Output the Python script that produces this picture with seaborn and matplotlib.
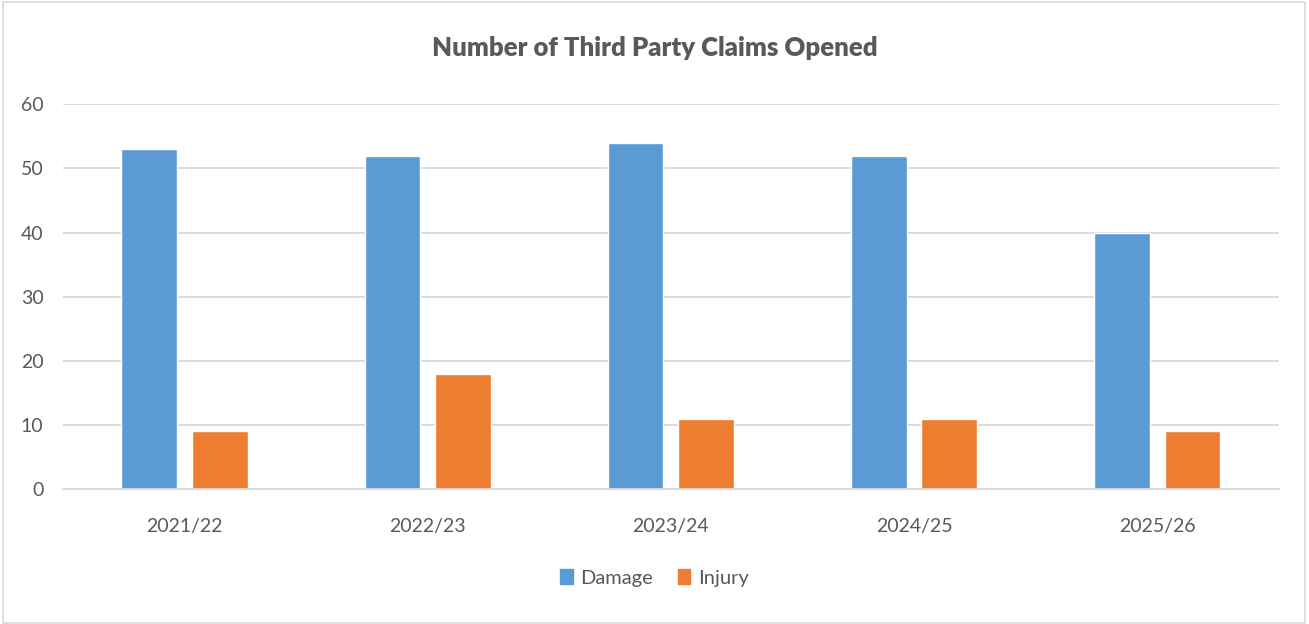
import pandas as pd
import matplotlib.pyplot as plt
import matplotlib.patches as mpatches
import seaborn as sns

# Datos
years = ["2021/22", "2022/23", "2023/24", "2024/25", "2025/26"]
damage = [53, 52, 54, 52, 40]
injury = [9, 18, 11, 11, 9]

data = pd.DataFrame({
    "Year": years * 2,
    "Claims": damage + injury,
    "Type": ["Damage"] * len(years) + ["Injury"] * len(years),
})

sns.set_style("white")
plt.rcParams["font.family"] = ["Lato", "DejaVu Sans"]

text_color = "#595959"
grid_color = "#D9D9D9"
palette = {"Damage": "#5B9BD5", "Injury": "#ED7D31"}

fig = plt.figure(figsize=(13.09, 6.24), dpi=100)
ax = fig.add_axes([0.048, 0.216, 0.929, 0.617])

sns.barplot(data=data, x="Year", y="Claims", hue="Type", palette=palette,
            width=0.58, gap=0.21, saturation=1, ax=ax, legend=False)

ax.set_ylim(0, 60)
ax.set_yticks(range(0, 61, 10))
ax.yaxis.grid(True, color=grid_color, linewidth=1.3)
ax.set_axisbelow(True)
for side in ["top", "right", "left"]:
    ax.spines[side].set_visible(False)
ax.spines["bottom"].set_color(grid_color)
ax.spines["bottom"].set_linewidth(1.3)
ax.set_xlabel("")
ax.set_ylabel("")
ax.tick_params(axis="x", length=0, pad=21, labelsize=14, labelcolor=text_color)
ax.tick_params(axis="y", length=0, pad=14, labelsize=14, labelcolor=text_color)

fig.text(0.5, 0.923, "Number of Third Party Claims Opened", ha="center", va="center",
         fontsize=18.5, fontweight="heavy", color=text_color)

handles = [mpatches.Patch(color=palette[k], label=k) for k in ["Damage", "Injury"]]
fig.legend(handles=handles, loc="center", bbox_to_anchor=(0.5, 0.074), ncol=2,
           frameon=False, fontsize=14.5, labelcolor=text_color,
           handlelength=0.6, handleheight=0.8, handletextpad=0.4, columnspacing=1.2)

# Borde del gráfico
fig.patches.append(mpatches.Rectangle((0.002, 0.002), 0.995, 0.995, transform=fig.transFigure,
                                      fill=False, edgecolor="#D9D9D9", linewidth=1.2))

plt.savefig("out.png", dpi=100)
